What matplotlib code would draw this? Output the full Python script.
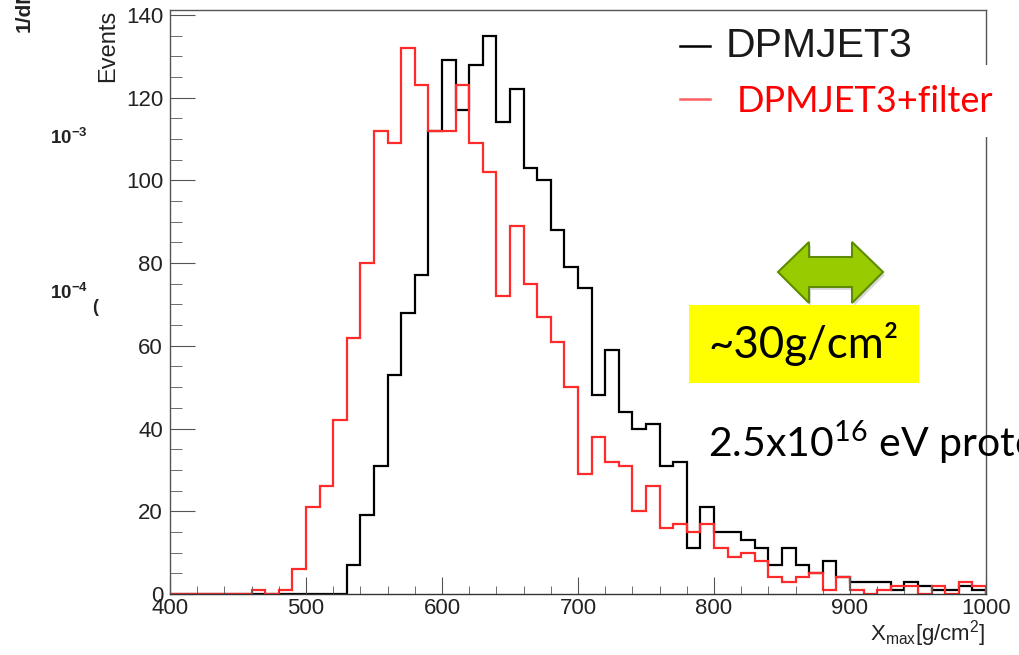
import numpy as np
import matplotlib.pyplot as plt
from matplotlib.patches import Polygon, Rectangle
from matplotlib.lines import Line2D

W, H = 1019, 655

# bin edges of the Xmax histogram [g/cm2]
edges = np.arange(400, 1001, 10)

# counts per 10 g/cm2 bin, 400 -> 1000
dpmjet = [0, 0, 0, 0, 0, 0, 0, 0, 0, 0, 0, 0, 0,
          7, 19, 31, 53, 68, 77, 112, 129, 117, 128, 135, 114, 122, 103, 100,
          88, 79, 74, 48, 59, 44, 40, 41, 31, 32, 11, 21, 15, 15, 13, 11, 7,
          11, 7, 5, 8, 4, 3, 3, 3, 1, 3, 2, 1, 1, 2, 1]
dpmjet_filter = [0, 0, 0, 0, 0, 0, 1, 0, 1, 6, 21, 26, 42, 62, 80, 112, 109,
                 132, 123, 112, 112, 123, 109, 102, 72, 89, 75, 67, 61, 50, 29,
                 38, 32, 31, 20, 26, 16, 17, 15, 17, 11, 9, 10, 8, 4, 3, 4, 5,
                 1, 4, 1, 0, 1, 2, 2, 0, 2, 0, 3, 2]

x_ticks = [400, 500, 600, 700, 800, 900, 1000]
y_ticks = [0, 20, 40, 60, 80, 100, 120, 140]


def fx(px):
    return px / W


def fy(py):
    return 1 - py / H


plt.rcParams['font.family'] = ['Liberation Sans', 'DejaVu Sans']

fig = plt.figure(figsize=(W / 100, H / 100), dpi=100)
ax = fig.add_axes([fx(170), fy(594), fx(986) - fx(170), fy(9.5) - fy(594)])

ax.stairs(dpmjet, edges, color='black', lw=1.6)
ax.stairs(dpmjet_filter, edges, color='#ff2a2a', lw=1.6)

ax.set_xlim(400, 1000)
ax.set_ylim(0, 141.3)
ax.set_xticks(x_ticks)
ax.set_xticks(np.arange(400, 1001, 20), minor=True)
ax.set_yticks(y_ticks)
ax.set_yticks(np.arange(0, 141, 5), minor=True)
ax.tick_params(which='both', direction='in', top=False, right=False,
               colors='#555555', labelcolor='#222222', labelsize=16)
ax.tick_params(axis='y', which='major', length=18, pad=5)
ax.tick_params(axis='y', which='minor', length=8.6)
ax.tick_params(axis='x', which='major', length=12, pad=3)
ax.tick_params(axis='x', which='minor', length=6)
for s in ax.spines.values():
    s.set_color('#555555')
    s.set_linewidth(1)
ax.spines['bottom'].set_color('#333333')

fig.text(fx(119), fy(10), 'Events', rotation=90, ha='right', va='top',
         fontsize=17, color='#222222')
fig.text(fx(986), fy(634), r'X$_{\mathregular{max}}$[g/cm$^{\mathregular{2}}$]',
         ha='right', va='center', fontsize=16, color='#222222')

# leftovers of the slide behind the plot
fig.text(fx(24), fy(32), '1/dN', rotation=90, ha='center', va='bottom',
         fontsize=15, fontweight='bold', color='#222222')
fig.text(fx(50), fy(138), r'10$^{\mathregular{-3}}$', ha='left', va='center',
         fontsize=13.5, fontweight='bold', color='#222222')
fig.text(fx(50), fy(293), r'10$^{\mathregular{-4}}$', ha='left', va='center',
         fontsize=13.5, fontweight='bold', color='#222222')
fig.text(fx(92), fy(308), '(', ha='left', va='center',
         fontsize=13, fontweight='bold', color='#222222')

# legend
fig.add_artist(Line2D([fx(680), fx(710)], [fy(46), fy(46)], color='black', lw=1.8))
fig.text(fx(726), fy(46), 'DPMJET3', ha='left', va='center',
         fontsize=29.5, color='#1a1a1a')
fig.add_artist(Rectangle((fx(718), fy(137)), fx(1019) - fx(718), fy(65) - fy(137),
                         transform=fig.transFigure, facecolor='white',
                         edgecolor='none'))
fig.add_artist(Line2D([fx(680), fx(710)], [fy(99), fy(99)], color='#ff6060', lw=1.8))
fig.text(fx(737), fy(102), 'DPMJET3+filter', ha='left', va='center',
         fontsize=26, color='#ff0000', family='Lato')

# green double arrow
arrow_px = [(778, 272), (809, 242), (809, 257), (852, 257), (852, 242),
            (883, 272), (852, 303), (852, 287), (809, 287), (809, 303)]
shadow = Polygon([(fx(x + 2), fy(y + 3)) for x, y in arrow_px], closed=True,
                 transform=fig.transFigure, facecolor='#000000', alpha=0.15,
                 edgecolor='none')
fig.add_artist(shadow)
fig.add_artist(Polygon([(fx(x), fy(y)) for x, y in arrow_px], closed=True,
                       transform=fig.transFigure, facecolor='#99cc00',
                       edgecolor='#5e8c00', lw=1.5))

# yellow label
fig.add_artist(Rectangle((fx(689), fy(383)), fx(919) - fx(689), fy(305) - fy(383),
                         transform=fig.transFigure, facecolor='#ffff00',
                         edgecolor='none'))
fig.text(fx(804), fy(344), '~30g/cm\u00b2', ha='center', va='center',
         fontsize=31.5, color='black', family='Lato')

fig.text(fx(708), fy(443), r'2.5x10$^{\mathregular{16}}$ eV proton', ha='left',
         va='center', fontsize=29.5, color='black', family='Lato')

fig.savefig('out.png', dpi=100)
